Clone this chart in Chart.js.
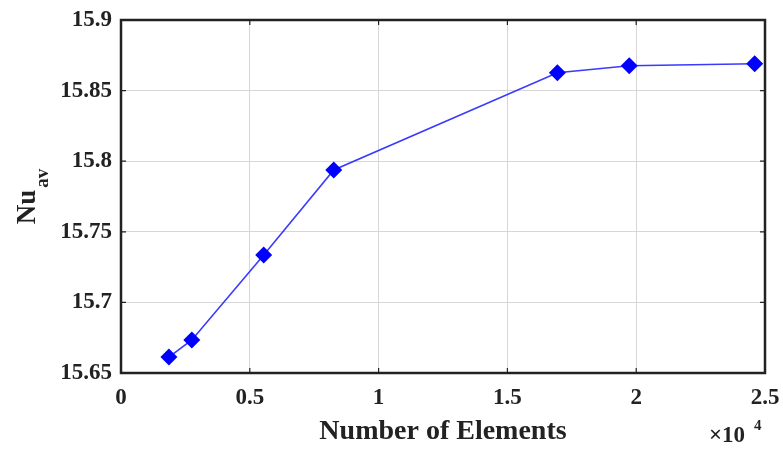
<!DOCTYPE html>
<html>
<head>
<meta charset="utf-8">
<script src="https://cdn.jsdelivr.net/npm/chart.js@4/dist/chart.umd.min.js"></script>
<style>
  html, body { margin: 0; padding: 0; background: #fff; }
  #wrap { width: 783px; height: 449px; }
</style>
</head>
<body>
<div id="wrap"><canvas id="myChart" width="783" height="449"></canvas></div>
<script>
// nombre d'éléments (x 10^4) et Nu moyen
const elements = [0.186, 0.275, 0.554, 0.826, 1.694, 1.973, 2.46];
const nuAv = [15.6613, 15.6734, 15.7336, 15.7938, 15.8627, 15.8676, 15.869];
const xTicks = [0, 0.5, 1, 1.5, 2, 2.5];
const yTicks = [15.65, 15.7, 15.75, 15.8, 15.85, 15.9];

const FONT = '"Liberation Serif", "Times New Roman", serif';

// cadre, petites graduations, titre Y avec indice et facteur x10^4
const framePlugin = {
    id: 'frame',
    afterDraw(chart) {
        const { ctx, chartArea: a, scales } = chart;
        ctx.save();
        ctx.strokeStyle = '#222';
        ctx.lineWidth = 1.2;
        const t = 5;
        xTicks.forEach(v => {
            const x = scales.x.getPixelForValue(v);
            ctx.beginPath();
            ctx.moveTo(x, a.bottom); ctx.lineTo(x, a.bottom - t);
            ctx.moveTo(x, a.top); ctx.lineTo(x, a.top + t);
            ctx.stroke();
        });
        yTicks.forEach(v => {
            const y = scales.y.getPixelForValue(v);
            ctx.beginPath();
            ctx.moveTo(a.left, y); ctx.lineTo(a.left + t, y);
            ctx.moveTo(a.right, y); ctx.lineTo(a.right - t, y);
            ctx.stroke();
        });
        ctx.lineWidth = 2.5;
        ctx.strokeRect(a.left, a.top, a.right - a.left, a.bottom - a.top);

        // titre Y : Nu_av
        ctx.fillStyle = '#222';
        ctx.translate(35, (a.top + a.bottom) / 2);
        ctx.rotate(-Math.PI / 2);
        ctx.textBaseline = 'alphabetic';
        ctx.font = 'bold 27px ' + FONT;
        const w1 = ctx.measureText('Nu').width;
        ctx.font = 'bold 19px ' + FONT;
        const w2 = ctx.measureText('av').width;
        const x0 = -(w1 + w2 + 2) / 2;
        ctx.font = 'bold 27px ' + FONT;
        ctx.fillText('Nu', x0, 0);
        ctx.font = 'bold 19px ' + FONT;
        ctx.fillText('av', x0 + w1 + 2, 13);
        ctx.setTransform(1, 0, 0, 1, 0, 0);

        // facteur x10^4
        ctx.font = 'bold 23px ' + FONT;
        ctx.fillText('\u00d710', 709, 442);
        ctx.font = 'bold 15px ' + FONT;
        ctx.fillText('4', 754, 430);
        ctx.restore();
    }
};

document.addEventListener('DOMContentLoaded', () => {
    const ctx = document.getElementById('myChart').getContext('2d');
    new Chart(ctx, {
        type: 'line',
        data: {
            datasets: [{
                data: elements.map((x, i) => ({ x: x, y: nuAv[i] })),
                borderColor: '#3a3aff',
                borderWidth: 1.6,
                backgroundColor: '#0000ff',
                pointStyle: 'rectRot',
                pointRadius: 8.5,
                pointBorderWidth: 0,
                pointBackgroundColor: '#0000ff',
                tension: 0
            }]
        },
        options: {
            responsive: false,
            animation: false,
            layout: { padding: { top: 20, right: 18, left: 0, bottom: 0 } },
            plugins: {
                legend: { display: false },
                tooltip: { enabled: false }
            },
            scales: {
                x: {
                    type: 'linear',
                    min: 0, max: 2.5,
                    afterBuildTicks: s => { s.ticks = xTicks.map(v => ({ value: v })); },
                    afterFit: s => {
                        s.height = 76;
                        s.paddingLeft = 0;
                        s.paddingRight = 0;
                    },
                    grid: { color: '#d6d6d6', lineWidth: 1, drawTicks: false },
                    border: { display: false },
                    ticks: {
                        padding: 11,
                        color: '#222',
                        font: { family: FONT, size: 23, weight: 'bold' },
                        callback: v => String(v)
                    },
                    title: {
                        display: true,
                        text: 'Number of Elements',
                        color: '#222',
                        padding: { top: 0, bottom: 0 },
                        font: { family: FONT, size: 28, weight: 'bold' }
                    }
                },
                y: {
                    min: 15.65, max: 15.9,
                    afterBuildTicks: s => { s.ticks = yTicks.map(v => ({ value: v })); },
                    afterFit: s => {
                        s.width = 121;
                        s.paddingTop = 0;
                        s.paddingBottom = 0;
                    },
                    grid: { color: '#d6d6d6', lineWidth: 1, drawTicks: false },
                    border: { display: false },
                    ticks: {
                        padding: 9,
                        color: '#222',
                        font: { family: FONT, size: 23, weight: 'bold' },
                        callback: v => String(parseFloat(v.toFixed(2)))
                    }
                }
            }
        },
        plugins: [framePlugin]
    });
});
</script>
</body>
</html>
